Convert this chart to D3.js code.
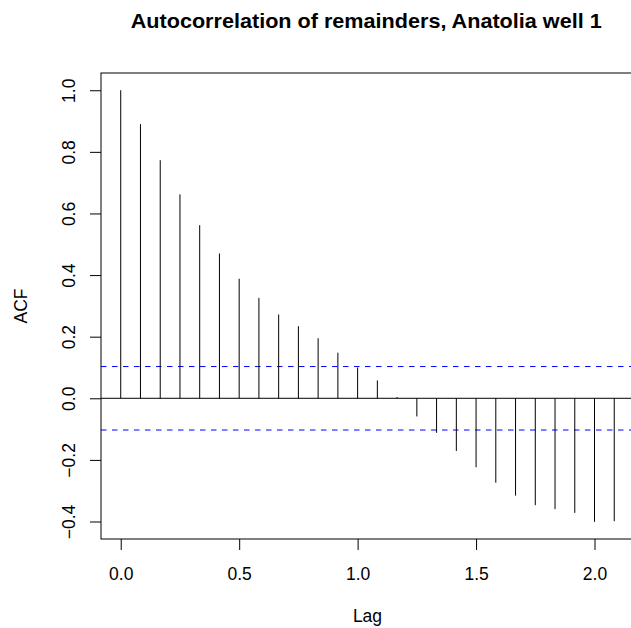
<!DOCTYPE html>
<html>
<head>
<meta charset="utf-8">
<script src="https://cdn.jsdelivr.net/npm/d3@7"></script>
<style>
  html, body { margin: 0; padding: 0; background: #ffffff; }
  svg { display: block; font-family: "Liberation Sans", Arial, Helvetica, sans-serif; }
</style>
</head>
<body>
<svg id="chart" width="631" height="628"></svg>
<script>
// Lags (years, monthly series) and sample autocorrelations of the remainders
const lags = [0.0000, 0.0833, 0.1667, 0.2500, 0.3333, 0.4167, 0.5000, 0.5833, 0.6667,
              0.7500, 0.8333, 0.9167, 1.0000, 1.0833, 1.1667, 1.2500, 1.3333, 1.4167,
              1.5000, 1.5833, 1.6667, 1.7500, 1.8333, 1.9167, 2.0000, 2.0833];
const acfValues = [1.000, 0.890, 0.773, 0.662, 0.562, 0.470, 0.388, 0.326, 0.272,
                   0.234, 0.195, 0.148, 0.100, 0.058, 0.004, -0.059, -0.112, -0.171,
                   -0.224, -0.274, -0.316, -0.347, -0.360, -0.372, -0.401, -0.399];
// 95% confidence bound for white noise
const ciBound = 0.103;
const xTicks = [0.0, 0.5, 1.0, 1.5, 2.0];
const yTicks = [-0.4, -0.2, 0.0, 0.2, 0.4, 0.6, 0.8, 1.0];

const titleText = "Autocorrelation of remainders, Anatolia well 1";
const xLabel = "Lag";
const yLabel = "ACF";

const svg = d3.select("#chart");

// plot region
const plotLeft = 101, plotRight = 634, plotTop = 73, plotBottom = 539;

const x = d3.scaleLinear().domain([-0.0833, 2.1667]).range([plotLeft, plotRight]);
const y = d3.scaleLinear().domain([-0.4568, 1.0560]).range([plotBottom, plotTop]);

const fmt = d3.format(".1f");
const tickSize = 17.5;

// x axis
const xAxis = svg.append("g")
  .attr("transform", `translate(0,${plotBottom})`)
  .call(d3.axisBottom(x).tickValues(xTicks).tickSize(11).tickPadding(0).tickFormat(fmt));
xAxis.select(".domain").remove();
xAxis.selectAll(".tick line").attr("stroke", "#000");
xAxis.selectAll(".tick text")
  .attr("y", 40.5).attr("dy", null)
  .attr("font-size", tickSize).attr("fill", "#000")
  .attr("font-family", "Liberation Sans, Arial, sans-serif");

// y axis with rotated labels
const yAxis = svg.append("g")
  .attr("transform", `translate(${plotLeft},0)`)
  .call(d3.axisLeft(y).tickValues(yTicks).tickSize(11).tickFormat(fmt));
yAxis.select(".domain").remove();
yAxis.selectAll(".tick line").attr("stroke", "#000");
yAxis.selectAll(".tick text")
  .attr("x", null).attr("dy", null)
  .attr("text-anchor", "middle")
  .attr("transform", "translate(-26,0) rotate(-90)")
  .attr("font-size", tickSize).attr("fill", "#000")
  .attr("font-family", "Liberation Sans, Arial, sans-serif")
  .text(d => fmt(d).replace("-", "\u2212"));

// zero line
svg.append("line")
  .attr("x1", plotLeft).attr("x2", plotRight)
  .attr("y1", y(0)).attr("y2", y(0))
  .attr("stroke", "#000").attr("stroke-width", 1);

// confidence bounds
[ciBound, -ciBound].forEach(v => {
  svg.append("line")
    .attr("x1", plotLeft).attr("x2", plotRight)
    .attr("y1", y(v)).attr("y2", y(v))
    .attr("stroke", "#0000ff").attr("stroke-width", 1)
    .attr("stroke-dasharray", "5.5,5.5");
});

// ACF spikes
svg.append("g").selectAll("line")
  .data(lags.map((l, i) => ({ lag: l, v: acfValues[i] })))
  .join("line")
  .attr("x1", d => x(d.lag)).attr("x2", d => x(d.lag))
  .attr("y1", y(0)).attr("y2", d => y(d.v))
  .attr("stroke", "#000").attr("stroke-width", 1);

// box
svg.append("rect")
  .attr("x", plotLeft).attr("y", plotTop)
  .attr("width", plotRight - plotLeft).attr("height", plotBottom - plotTop)
  .attr("fill", "none").attr("stroke", "#000").attr("stroke-width", 1);

// title
svg.append("text")
  .attr("x", 366.2).attr("y", 27.5)
  .attr("text-anchor", "middle")
  .attr("font-size", 21).attr("font-weight", "bold")
  .attr("textLength", 471).attr("lengthAdjust", "spacingAndGlyphs")
  .text(titleText);

// axis labels
svg.append("text")
  .attr("x", (plotLeft + plotRight) / 2).attr("y", 622)
  .attr("text-anchor", "middle")
  .attr("font-size", tickSize)
  .text(xLabel);

svg.append("text")
  .attr("transform", `translate(27,${(plotTop + plotBottom) / 2}) rotate(-90)`)
  .attr("text-anchor", "middle")
  .attr("font-size", tickSize)
  .text(yLabel);
</script>
</body>
</html>
